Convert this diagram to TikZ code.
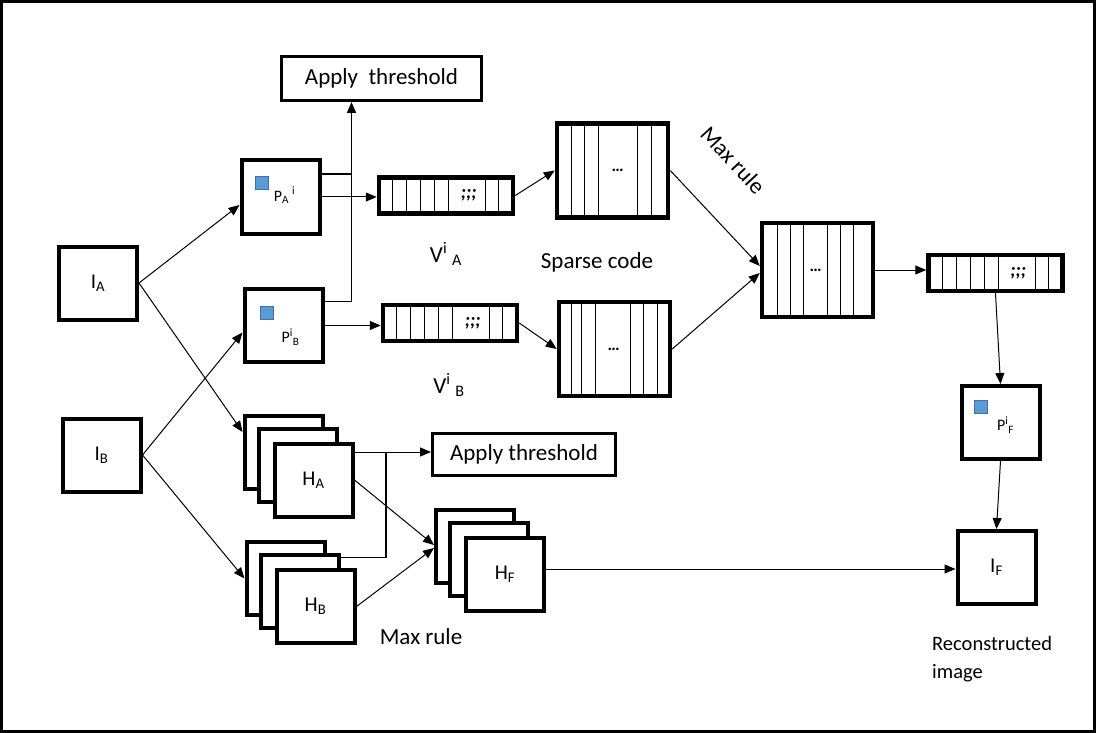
\documentclass[tikz,border=0pt]{standalone}
\usepackage{fontspec}
\setmainfont{Carlito}
\usetikzlibrary{arrows.meta,calc}
\definecolor{patchfill}{RGB}{91,155,213}
\definecolor{patchline}{RGB}{65,113,156}
\tikzset{imgbox/.style={rectangle,draw,line width=4pt,fill=white,minimum width=78pt,minimum height=73pt,inner sep=0pt,font=\fontsize{21}{25}\selectfont},vecbox/.style={rectangle,draw,line width=4.5pt,fill=white,minimum width=134pt,minimum height=36pt,inner sep=0pt},matbox/.style={rectangle,draw,line width=4.5pt,fill=white,minimum width=111pt,minimum height=94pt,inner sep=0pt},thrbox/.style={rectangle,draw,line width=3pt,inner sep=0pt,font=\fontsize{23}{27}\selectfont},patch/.style={rectangle,draw=patchline,fill=patchfill,line width=1pt,minimum size=13pt,inner sep=0pt},ptxt/.style={inner sep=0pt,font=\fontsize{16}{19}\selectfont},txt/.style={inner sep=0pt,font=\fontsize{23}{27}\selectfont},cell/.style={line width=1.3pt},flow/.style={-{Triangle[length=11pt,width=9pt]},line width=1pt},joinline/.style={line width=1.8pt}}

\begin{document}
\begin{tikzpicture}[x=1pt,y=-1pt]
\useasboundingbox (0,0) rectangle (1096,733);
\draw[line width=3pt] (1.5,1.5) rectangle (1094.5,731.5);
% source images and patches
\node[imgbox] (IA) at (98,283) {I\textsubscript{A}};
\node[imgbox] (IB) at (101.5,455) {I\textsubscript{B}};
\node[imgbox] (PA) at (280.5,197) {};
\node[imgbox] (PB) at (283.5,325.5) {};
\node[imgbox] (PF) at (1000.5,422.5) {};
\node[imgbox] (IF) at (996.5,567.5) {I\textsubscript{F}};
\foreach \p/\dx/\dy/\tx/\ty/\lbl in {PA/22/25/45/37/{P\textsubscript{A}\hspace{3pt}\textsuperscript{i}},PB/24.5/25.5/48/50/{P\textsuperscript{i}\textsubscript{B}},PF/21/23/46/41/{P\textsuperscript{i}\textsubscript{F}}}{
\node[patch] (\p dot) at ($(\p.north west)+(\dx,\dy)$) {};
\node[ptxt] (\p txt) at ($(\p.north west)+(\tx,\ty)$) {\lbl};
}
% patch vectors
\node[vecbox] (VA) at (446,195.5) {};
\node[vecbox] (VB) at (450,323) {};
\node[vecbox] (VF) at (995.5,273) {};
\foreach \v in {VA,VB,VF}{
\foreach \x in {16,30,44,58,72,109,122} \draw[cell] ([xshift=\x pt]\v.north west)--([xshift=\x pt]\v.south west);
\node[ptxt,font=\fontsize{19}{22}\selectfont\bfseries] (\v semi) at ([xshift=92pt]\v.west) {\textit{;;;}};
}
% sparse codes
\node[matbox] (SA) at (612.5,170.5) {};
\node[matbox] (SB) at (614.5,349) {};
\node[matbox] (SF) at (817.5,270) {};
\foreach \m/\cols/\mid in {SA/{17,30,44,83,97}/63,SB/{15,25,39,74,87,101}/57,SF/{18,31,44,68,81,94}/56}{
\foreach \x in \cols \draw[cell] ([xshift=\x pt]\m.north west)--([xshift=\x pt]\m.south west);
\node[ptxt,font=\fontsize{17}{20}\selectfont\bfseries] (\m dots) at ([xshift=\mid pt]\m.west) {\dots};
}
% high-pass stacks
\foreach \s/\cx/\cy in {A/283.5/452,B/285.5/578.5,F/475/546}{
\node[imgbox] (H\s1) at (\cx,\cy) {};
\node[imgbox] (H\s2) at (\cx+14,\cy+13) {};
\node[imgbox] (H\s) at (\cx+30,\cy+28) {H\textsubscript{\s}};
}
\node[thrbox,minimum width=200pt,minimum height=44pt] (thrA) at (381.5,78.5) {Apply\ \ threshold};
\node[thrbox,minimum width=183pt,minimum height=42pt] (thrB) at (524,454.5) {Apply threshold};
% labels
\node[txt] (VAlbl) at (446,254) {V\textsuperscript{i}\hspace{5pt}\textsubscript{A}};
\node[txt] (VBlbl) at (449,385) {V\textsuperscript{i}\hspace{5pt}\textsubscript{B}};
\node[txt] (sparse) at (597,262) {Sparse code};
\node[txt,rotate=-47] (maxA) at (733,160) {Max rule};
\node[txt] (maxB) at (421,637) {Max rule};
\node[txt,font=\fontsize{20.5}{28}\selectfont,align=left,anchor=north west] (recon) at (932,636) {Reconstructed\\image};
% connectors
\draw[flow] (IA.east)--([yshift=-8pt]PA.west);
\draw[flow] (IA.east)--([yshift=20pt]HA1.west);
\draw[flow] (IB.east)--([yshift=-7pt]PB.west);
\draw[flow] (IB.east)--(HB1.west);
\draw[flow] (PA.east)--(PA.east -| VA.west);
\draw[flow] (PB.east)--(PB.east -| VB.west);
\coordinate (thrin) at ([xshift=-30pt]thrA.south);
\coordinate (PAout) at ([yshift=23pt]PA.east);
\draw[joinline] (PAout)--(PAout -| thrin);
\draw[joinline,-{Triangle[length=11pt,width=9pt]}] ([yshift=24pt]PB.east) -| (thrin);
\draw[flow] (VA.east)--(SA.west);
\draw[flow] (VB.east)--(SB.west);
\draw[flow] (SA.east)--([yshift=4pt]SF.west);
\draw[flow] (SB.east)--([yshift=-3pt]SF.west);
\draw[flow] (SF.east)--(SF.east -| VF.west);
\draw[flow] (VF.south)--(PF.north);
\draw[flow] (PF.south)--(IF.north);
\coordinate (HAout) at ([yshift=28pt]HA.east);
\draw[flow] (HAout)--(HAout -| thrB.west);
\coordinate (tj) at ($(HAout)!0.41!(HAout -| thrB.west)$);
\draw[joinline] ([yshift=34pt]HB2.east) -| (tj);
\draw[flow] (HA.east)--([yshift=1pt]HF1.west);
\draw[flow] (HB.east)--([yshift=-2pt]HF1.west);
\coordinate (HFout) at ([yshift=5pt]HF.east);
\draw[flow] (HFout)--(HFout -| IF.west);
\end{tikzpicture}
\end{document}
